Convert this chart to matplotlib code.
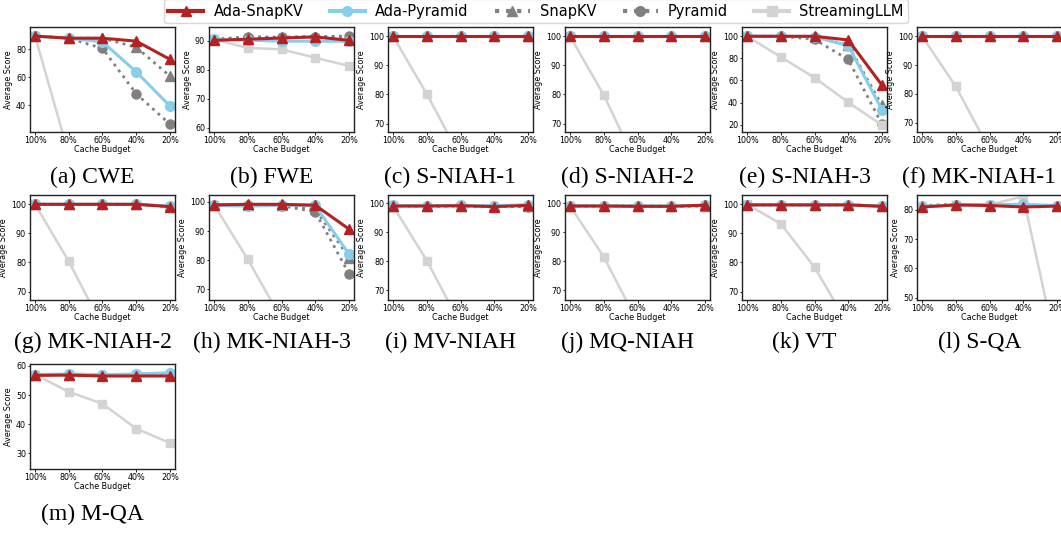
"""
RULER subtask scores vs. cache budget for five KV-cache compression methods.
"""
import matplotlib
matplotlib.use('Agg')
import matplotlib.pyplot as plt
from matplotlib.lines import Line2D

# Data
budgets = ['100%', '80%', '60%', '40%', '20%']
tasks = ['(a) CWE', '(b) FWE', '(c) S-NIAH-1', '(d) S-NIAH-2', '(e) S-NIAH-3',
         '(f) MK-NIAH-1', '(g) MK-NIAH-2', '(h) MK-NIAH-3', '(i) MV-NIAH',
         '(j) MQ-NIAH', '(k) VT', '(l) S-QA', '(m) M-QA']

ada_snapkv = [
    [89.5, 88.0, 88.0, 85.9, 72.9],
    [90.2, 90.6, 91.0, 91.4, 90.2],
    [100, 100, 100, 100, 100],
    [100, 100, 100, 100, 100],
    [100, 100, 100, 96.7, 55.8],
    [100, 100, 100, 100, 100],
    [100, 100, 100, 100, 99.2],
    [99.0, 99.2, 99.2, 98.9, 90.7],
    [99.0, 99.0, 99.1, 98.8, 99.2],
    [99.0, 99.0, 98.9, 98.9, 99.3],
    [99.8, 99.8, 99.8, 99.8, 99.3],
    [81.0, 81.7, 81.5, 81.0, 81.3],
    [56.7, 56.8, 56.5, 56.5, 56.5],
]
ada_pyramid = [
    [89.5, 88.0, 85.4, 64.0, 39.5],
    [90.5, 90.3, 89.9, 89.9, 89.9],
    [100, 100, 100, 100, 100],
    [100, 100, 100, 100, 100],
    [100, 100, 99.5, 91.5, 33.5],
    [100, 100, 100, 100, 100],
    [100, 100, 100, 100, 99.4],
    [98.8, 98.6, 98.9, 98.8, 82.1],
    [99.2, 99.1, 99.2, 99.1, 99.5],
    [99.1, 99.1, 99.0, 99.0, 99.2],
    [99.8, 99.8, 99.8, 99.8, 99.4],
    [81.1, 81.7, 81.8, 81.9, 81.5],
    [57.0, 57.2, 56.9, 57.2, 57.6],
]
snapkv = [
    [89.5, 88.0, 88.0, 81.6, 60.9],
    [90.5, 91.2, 91.3, 91.5, 91.4],
    [100, 100, 100, 100, 100],
    [100, 100, 100, 100, 100],
    [100, 100, 99.5, 92.0, 37.5],
    [100, 100, 100, 100, 100],
    [100, 100, 100, 100, 99.3],
    [99.0, 99.0, 99.0, 97.5, 80.9],
    [99.1, 99.0, 99.1, 99.0, 99.0],
    [99.0, 99.0, 99.0, 98.9, 99.1],
    [99.8, 99.8, 99.8, 99.8, 99.4],
    [81.5, 81.8, 81.8, 81.7, 81.4],
    [57.0, 57.0, 56.8, 57.0, 57.1],
]
pyramid = [
    [89.5, 88.0, 80.7, 48.3, 26.6],
    [90.5, 91.5, 91.2, 91.4, 91.7],
    [100, 100, 100, 100, 100],
    [100, 100, 100, 100, 100],
    [100, 100, 97.2, 79.0, 20.5],
    [100, 100, 100, 100, 100],
    [100, 100, 100, 100, 99.2],
    [98.9, 98.9, 98.7, 96.6, 75.4],
    [99.1, 99.0, 99.0, 99.0, 98.7],
    [99.0, 99.0, 99.0, 98.9, 99.0],
    [99.8, 99.8, 99.8, 99.8, 99.4],
    [81.5, 81.8, 81.8, 81.7, 81.4],
    [57.0, 57.0, 56.8, 57.0, 57.1],
]
streaming_llm = [
    [89.5, 5.0, 2.0, 1.0, 0.5],
    [90.5, 87.6, 87.1, 84.2, 81.4],
    [100, 80.2, 58.4, 40.0, 25.0],
    [100, 79.8, 55.4, 38.0, 24.0],
    [100, 81.3, 62.5, 40.3, 19.6],
    [100, 82.6, 60.7, 42.0, 26.0],
    [100, 80.4, 57.9, 40.0, 25.0],
    [99.0, 80.3, 59.7, 41.0, 26.0],
    [99.0, 80.2, 58.2, 40.0, 25.0],
    [99.0, 81.5, 58.9, 41.0, 26.0],
    [100, 93.3, 78.4, 58.6, 40.0],
    [81.2, 81.8, 81.8, 84.6, 31.8],
    [57.0, 51.1, 47.0, 38.5, 33.6],
]

y_limits = [(21, 96), (58.6, 94.8), (67.1, 103.2), (67.1, 103.2), (13.4, 108.4),
            (66.8, 103.2), (67.1, 103.2), (66.3, 102.4), (66.6, 102.8),
            (66.6, 102.8), (67.1, 103.2), (49.2, 85.1), (24.7, 60.6)]
y_ticks = [[40, 60, 80], [60, 70, 80, 90], [70, 80, 90, 100], [70, 80, 90, 100],
           [20, 40, 60, 80, 100], [70, 80, 90, 100], [70, 80, 90, 100],
           [70, 80, 90, 100], [70, 80, 90, 100], [70, 80, 90, 100],
           [70, 80, 90, 100], [50, 60, 70, 80], [30, 40, 50, 60]]

# Styles (drawing order: baselines below, Ada variants on top)
RED = '#B22222'
BLUE = '#87CEEB'
GRAY = '#808080'
LIGHT = '#D3D3D3'

series = [
    ('SnapKV', snapkv, dict(color=GRAY, linestyle=':', linewidth=2.0, marker='^', markersize=6.5)),
    ('Pyramid', pyramid, dict(color=GRAY, linestyle=':', linewidth=2.0, marker='o', markersize=6.5)),
    ('StreamingLLM', streaming_llm, dict(color=LIGHT, linestyle='-', linewidth=1.8, marker='s', markersize=6)),
    ('Ada-Pyramid', ada_pyramid, dict(color=BLUE, linestyle='-', linewidth=2.2, marker='o', markersize=7)),
    ('Ada-SnapKV', ada_snapkv, dict(color=RED, linestyle='-', linewidth=2.2, marker='^', markersize=7)),
]

W, H = 1061, 533
fig = plt.figure(figsize=(W / 100, H / 100), dpi=100)

col_left = [30, 209, 388, 565, 742, 917]
row_top = [27, 195, 364]
caption_y = [177, 342, 514]
ax_w, ax_h = 145, 105

x = list(range(len(budgets)))
for i, task in enumerate(tasks):
    r, c = divmod(i, 6)
    left, top = col_left[c], row_top[r]
    ax = fig.add_axes([left / W, 1 - (top + ax_h) / H, ax_w / W, ax_h / H])
    for name, data, style in series:
        ax.plot(x, data[i], label=name, **style)
    ax.set_xlim(-0.15, 4.15)
    ax.set_ylim(*y_limits[i])
    ax.set_yticks(y_ticks[i])
    ax.set_xticks(x)
    ax.set_xticklabels(budgets)
    ax.tick_params(labelsize=5.8, length=1.8, width=0.6, pad=1)
    ax.set_xlabel('Cache Budget', fontsize=5.8, labelpad=0)
    ax.set_ylabel('Average Score', fontsize=5.8, labelpad=2)
    for sp in ax.spines.values():
        sp.set_linewidth(1.0)
        sp.set_color('#222222')
    fig.text((left + ax_w / 2 - 10) / W, 1 - caption_y[r] / H, task,
             ha='center', va='center', fontsize=17, family='Liberation Serif')

# Shared legend across the top
handles = [
    Line2D([], [], color=RED, linewidth=3, marker='^', markersize=7),
    Line2D([], [], color=BLUE, linewidth=3, marker='o', markersize=7),
    Line2D([], [], color=GRAY, linestyle=':', linewidth=3, marker='^', markersize=7),
    Line2D([], [], color=GRAY, linestyle=':', linewidth=3, marker='o', markersize=7),
    Line2D([], [], color=LIGHT, linewidth=3, marker='s', markersize=7),
]
labels = ['Ada-SnapKV', 'Ada-Pyramid', 'SnapKV', 'Pyramid', 'StreamingLLM']
fig.legend(handles, labels, loc='upper center', bbox_to_anchor=(536 / W, 1.015),
           ncol=5, fontsize=10.5, handlelength=2.4, handletextpad=0.7,
           columnspacing=1.8, frameon=True, fancybox=True, borderpad=0.3)

fig.savefig('out.png', dpi=100)
